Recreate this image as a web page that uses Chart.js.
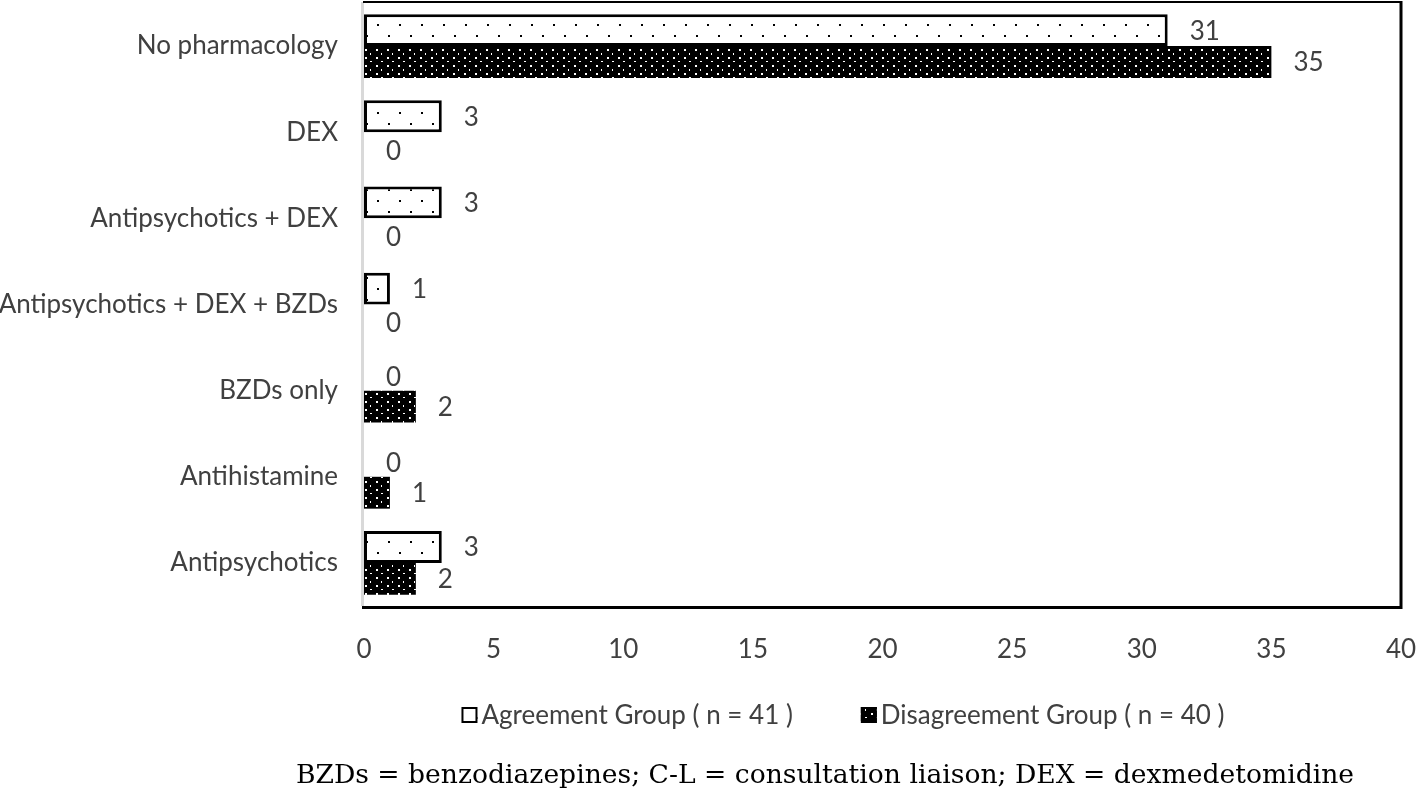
<!DOCTYPE html>
<html>
<head>
<meta charset="utf-8">
<script src="https://cdn.jsdelivr.net/npm/chart.js@4"></script>
<style>
  html, body { margin: 0; padding: 0; background: #fff; }
  #wrap { width: 1418px; height: 797px; }
</style>
</head>
<body>
<div id="wrap"><canvas id="chart" width="1418" height="797"></canvas></div>
<script>
const categories = [
    'No pharmacology',
    'DEX',
    'Antipsychotics + DEX',
    'Antipsychotics + DEX + BZDs',
    'BZDs only',
    'Antihistamine',
    'Antipsychotics'
];
const agreementValues = [31, 3, 3, 1, 0, 0, 3];
const disagreementValues = [35, 0, 0, 0, 2, 1, 2];
const seriesNames = ['Agreement Group ( n = 41 )', 'Disagreement Group ( n = 40 )'];
const xMin = 0, xMax = 40, xStep = 5;
const footnote = 'BZDs = benzodiazepines; C-L = consultation liaison; DEX = dexmedetomidine';

const FONT = 'Lato, "Open Sans", sans-serif';
const FSIZE = 26;
const TEXT = '#404040';

const canvas = document.getElementById('chart');
const ctx = canvas.getContext('2d');

// dotted fills like the excel pattern fills
function makePattern(bg, fg, w, h, dots) {
    const c = document.createElement('canvas');
    c.width = w; c.height = h;
    const g = c.getContext('2d');
    g.fillStyle = bg;
    g.fillRect(0, 0, w, h);
    g.fillStyle = fg;
    dots.forEach(d => g.fillRect(d[0], d[1], d[2], d[3]));
    return ctx.createPattern(c, 'repeat');
}

const agreementFill = makePattern('#fff', '#000', 22, 22, [[3, 2, 2, 2], [14, 13, 2, 2]]);
const disagreementFill = makePattern('#000', '#fff', 11, 16, [[2, 1, 2, 2], [7, 5, 1, 2], [2, 9, 2, 2], [7, 13, 2, 1]]);

const framePlugin = {
    id: 'frame',
    beforeDatasetsDraw(chart) {
        const { ctx, chartArea: a } = chart;
        ctx.save();
        ctx.strokeStyle = '#d9d9d9';
        ctx.lineWidth = 3;
        ctx.beginPath();
        ctx.moveTo(a.left - 1.5, a.top - 1);
        ctx.lineTo(a.left - 1.5, a.bottom);
        ctx.stroke();
        ctx.restore();
    },
    afterDatasetsDraw(chart) {
        const { ctx, chartArea: a, scales } = chart;
        ctx.save();
        ctx.strokeStyle = '#000';
        ctx.lineWidth = 2;
        ctx.beginPath();
        ctx.moveTo(a.left - 1, a.top - 1);
        ctx.lineTo(a.right + 1, a.top - 1);
        ctx.stroke();
        ctx.lineWidth = 3;
        ctx.beginPath();
        ctx.moveTo(a.right, a.top - 2);
        ctx.lineTo(a.right, a.bottom + 1.5);
        ctx.moveTo(a.left - 2, a.bottom + 1.5);
        ctx.lineTo(a.right + 1.5, a.bottom + 1.5);
        ctx.stroke();

        // value labels
        ctx.font = FSIZE + 'px ' + FONT;
        ctx.fillStyle = TEXT;
        ctx.textAlign = 'left';
        ctx.textBaseline = 'middle';
        chart.data.datasets.forEach((ds, i) => {
            chart.getDatasetMeta(i).data.forEach((bar, j) => {
                const v = ds.data[j];
                const x = scales.x.getPixelForValue(v) + 22;
                ctx.fillText(String(v), x, bar.y + (v === 0 ? 3 : 1));
            });
        });
        ctx.restore();
    },
    afterDraw(chart) {
        const { ctx } = chart;
        ctx.save();
        // legend
        ctx.font = FSIZE + 'px ' + FONT;
        ctx.textBaseline = 'middle';
        ctx.textAlign = 'left';
        const box = 16, gapText = 4, gapItem = 68;
        const fills = [agreementFill, disagreementFill];
        const widths = seriesNames.map(s => ctx.measureText(s).width);
        const total = widths.reduce((s, w) => s + box + gapText + w, 0) + gapItem;
        let x = 843 - total / 2;
        const ly = 715;
        seriesNames.forEach((name, i) => {
            ctx.fillStyle = fills[i];
            ctx.fillRect(x, ly - box / 2, box, box);
            ctx.strokeStyle = '#000';
            ctx.lineWidth = 2;
            ctx.strokeRect(x + 1, ly - box / 2 + 1, box - 2, box - 2);
            ctx.fillStyle = TEXT;
            ctx.fillText(name, x + box + gapText, ly + 1);
            x += box + gapText + widths[i] + gapItem;
        });

        // footnote
        let size = 24;
        ctx.font = size + 'px "DejaVu Serif", serif';
        size = size * 1060 / ctx.measureText(footnote).width;
        ctx.font = size.toFixed(1) + 'px "DejaVu Serif", serif';
        ctx.fillStyle = '#000';
        ctx.textAlign = 'center';
        ctx.fillText(footnote, 825, 776);
        ctx.restore();
    }
};

function noScalePadding(s) {
    s.paddingLeft = 0;
    s.paddingRight = 0;
    s.paddingTop = 0;
    s.paddingBottom = 0;
}

new Chart(ctx, {
    type: 'bar',
    data: {
        labels: categories,
        datasets: [
            {
                label: seriesNames[0],
                data: agreementValues,
                backgroundColor: agreementFill,
                borderColor: '#000',
                borderWidth: c => (c.raw > 0 ? 3 : 0),
                borderSkipped: false
            },
            {
                label: seriesNames[1],
                data: disagreementValues,
                backgroundColor: disagreementFill,
                borderWidth: 0
            }
        ]
    },
    options: {
        indexAxis: 'y',
        responsive: false,
        animation: false,
        categoryPercentage: 0.74,
        barPercentage: 1,
        layout: { padding: { top: 3, right: 17, left: 0, bottom: 131 } },
        plugins: {
            legend: { display: false },
            tooltip: { enabled: false }
        },
        scales: {
            x: {
                min: xMin,
                max: xMax,
                ticks: { stepSize: xStep, padding: 20, color: TEXT, font: { family: FONT, size: FSIZE } },
                grid: { display: false },
                border: { display: false },
                afterFit: s => { s.height = 60; noScalePadding(s); }
            },
            y: {
                ticks: { padding: 18, color: TEXT, font: { family: FONT, size: FSIZE } },
                grid: { display: false },
                border: { display: false },
                afterFit: s => { s.width = 364; noScalePadding(s); }
            }
        }
    },
    plugins: [framePlugin]
});
</script>
</body>
</html>
